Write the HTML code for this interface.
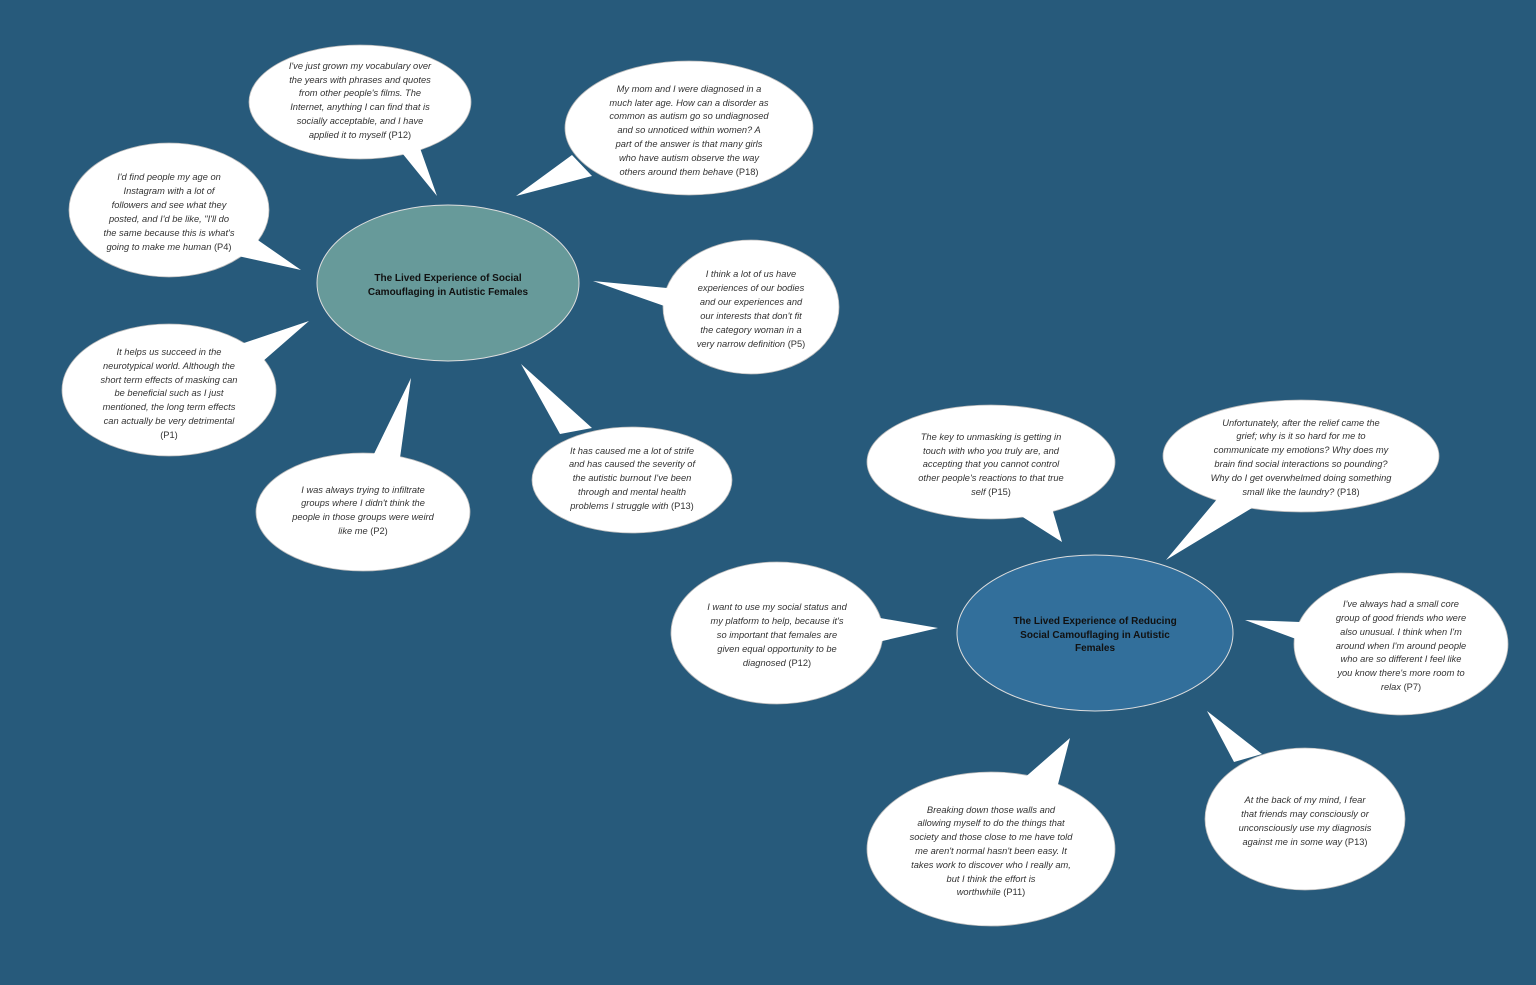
<!DOCTYPE html>
<html><head><meta charset="utf-8"><style>
html,body{margin:0;padding:0;background:#275a7b;}
svg{display:block}
.q{font-family:"Liberation Sans",sans-serif;font-size:9.3px;font-style:italic;fill:#333;text-anchor:middle}
.q tspan.n{font-style:normal}
.h{font-family:"Liberation Sans",sans-serif;font-size:10px;font-weight:bold;fill:#111;text-anchor:middle}
.b{fill:#fff;stroke:#bbb;stroke-width:0.8}
.t{fill:#fff}
</style></head><body>
<svg width="1536" height="985" viewBox="0 0 1536 985" xmlns="http://www.w3.org/2000/svg">
<rect width="1536" height="985" fill="#275a7b"/>
<ellipse cx="448" cy="283" rx="131" ry="78" fill="#679a9a" stroke="#ddd" stroke-width="1"/>
<text class="h"><tspan x="448" y="281">The Lived Experience of Social</tspan><tspan x="448" y="295">Camouflaging in Autistic Females</tspan></text>
<ellipse cx="1095" cy="633" rx="138" ry="78" fill="#326f9b" stroke="#ddd" stroke-width="1"/>
<text class="h"><tspan x="1095" y="624">The Lived Experience of Reducing</tspan><tspan x="1095" y="638">Social Camouflaging in Autistic</tspan><tspan x="1095" y="651">Females</tspan></text>

<!-- 1 -->
<ellipse class="b" cx="360" cy="102" rx="111" ry="57"/><polygon class="t" points="398,148 420,148 437,196"/>
<text class="q"><tspan x="360" y="69">I've just grown my vocabulary over</tspan><tspan x="360" y="83">the years with phrases and quotes</tspan><tspan x="360" y="96">from other people's films. The</tspan><tspan x="360" y="110">Internet, anything I can find that is</tspan><tspan x="360" y="124">socially acceptable, and I have</tspan><tspan x="360" y="138">applied it to myself <tspan class="n">(P12)</tspan></tspan></text>
<!-- 2 -->
<ellipse class="b" cx="689" cy="128" rx="124" ry="67"/><polygon class="t" points="572,155 592,176 516,196"/>
<text class="q"><tspan x="689" y="92">My mom and I were diagnosed in a</tspan><tspan x="689" y="106">much later age. How can a disorder as</tspan><tspan x="689" y="119">common as autism go so undiagnosed</tspan><tspan x="689" y="133">and so unnoticed within women? A</tspan><tspan x="689" y="147">part of the answer is that many girls</tspan><tspan x="689" y="161">who have autism observe the way</tspan><tspan x="689" y="175">others around them behave <tspan class="n">(P18)</tspan></tspan></text>
<!-- 3 -->
<ellipse class="b" cx="169" cy="210" rx="100" ry="67"/><polygon class="t" points="252,236 238,256 301,270"/>
<text class="q"><tspan x="169" y="180">I'd find people my age on</tspan><tspan x="169" y="194">Instagram with a lot of</tspan><tspan x="169" y="208">followers and see what they</tspan><tspan x="169" y="222">posted, and I'd be like, "I'll do</tspan><tspan x="169" y="236">the same because this is what's</tspan><tspan x="169" y="250">going to make me human <tspan class="n">(P4)</tspan></tspan></text>
<!-- 4 -->
<ellipse class="b" cx="169" cy="390" rx="107" ry="66"/><polygon class="t" points="238,345 262,362 309,321"/>
<text class="q"><tspan x="169" y="355">It helps us succeed in the</tspan><tspan x="169" y="369">neurotypical world. Although the</tspan><tspan x="169" y="383">short term effects of masking can</tspan><tspan x="169" y="396">be beneficial such as I just</tspan><tspan x="169" y="410">mentioned, the long term effects</tspan><tspan x="169" y="424">can actually be very detrimental</tspan><tspan class="n" x="169" y="438" style="font-style:normal">(P1)</tspan></text>
<!-- 5 -->
<ellipse class="b" cx="363" cy="512" rx="107" ry="59"/><polygon class="t" points="372,458 400,458 411,378"/>
<text class="q"><tspan x="363" y="493">I was always trying to infiltrate</tspan><tspan x="363" y="506">groups where I didn't think the</tspan><tspan x="363" y="520">people in those groups were weird</tspan><tspan x="363" y="534">like me <tspan class="n">(P2)</tspan></tspan></text>
<!-- 6 -->
<ellipse class="b" cx="632" cy="480" rx="100" ry="53"/><polygon class="t" points="560,434 592,428 521,364"/>
<text class="q"><tspan x="632" y="454">It has caused me a lot of  strife</tspan><tspan x="632" y="467">and has caused the severity of</tspan><tspan x="632" y="481">the autistic burnout I've been</tspan><tspan x="632" y="495">through and mental health</tspan><tspan x="632" y="509">problems I struggle with <tspan class="n">(P13)</tspan></tspan></text>
<!-- 7 -->
<ellipse class="b" cx="751" cy="307" rx="88" ry="67"/><polygon class="t" points="667,288 670,308 593,281"/>
<text class="q"><tspan x="751" y="277">I think a lot of us have</tspan><tspan x="751" y="291">experiences of our bodies</tspan><tspan x="751" y="305">and our experiences and</tspan><tspan x="751" y="319">our interests that don't fit</tspan><tspan x="751" y="333">the category woman in a</tspan><tspan x="751" y="347">very narrow definition <tspan class="n">(P5)</tspan></tspan></text>
<!-- 8 -->
<ellipse class="b" cx="991" cy="462" rx="124" ry="57"/><polygon class="t" points="1018,514 1052,508 1062,542"/>
<text class="q"><tspan x="991" y="440">The key to unmasking is getting in</tspan><tspan x="991" y="454">touch with who you truly are, and</tspan><tspan x="991" y="467">accepting that you cannot control</tspan><tspan x="991" y="481">other people's reactions to that true</tspan><tspan x="991" y="495">self <tspan class="n">(P15)</tspan></tspan></text>
<!-- 9 -->
<ellipse class="b" cx="1301" cy="456" rx="138" ry="56"/><polygon class="t" points="1218,498 1252,508 1166,560"/>
<text class="q"><tspan x="1301" y="426">Unfortunately, after the relief came the</tspan><tspan x="1301" y="439">grief; why is it so hard for me to</tspan><tspan x="1301" y="453">communicate my emotions? Why does my</tspan><tspan x="1301" y="467">brain find social interactions so pounding?</tspan><tspan x="1301" y="481">Why do I get overwhelmed doing something</tspan><tspan x="1301" y="495">small like the laundry? <tspan class="n">(P18)</tspan></tspan></text>
<!-- 10 -->
<ellipse class="b" cx="1401" cy="644" rx="107" ry="71"/><polygon class="t" points="1300,622 1304,642 1245,620"/>
<text class="q"><tspan x="1401" y="607">I've always had  a small core</tspan><tspan x="1401" y="621">group of  good friends who were</tspan><tspan x="1401" y="635">also unusual. I think when I'm</tspan><tspan x="1401" y="649">around when I'm around people</tspan><tspan x="1401" y="662">who are so different  I feel like</tspan><tspan x="1401" y="676">you know there's  more room to</tspan><tspan x="1401" y="690">relax <tspan class="n">(P7)</tspan></tspan></text>
<!-- 11 -->
<ellipse class="b" cx="777" cy="633" rx="106" ry="71"/><polygon class="t" points="880,618 878,642 938,628"/>
<text class="q"><tspan x="777" y="610">I want to use my social status and</tspan><tspan x="777" y="624">my platform to help,  because it's</tspan><tspan x="777" y="638">so important that females are</tspan><tspan x="777" y="652">given equal opportunity to be</tspan><tspan x="777" y="666">diagnosed <tspan class="n">(P12)</tspan></tspan></text>
<!-- 12 -->
<ellipse class="b" cx="991" cy="849" rx="124" ry="77"/><polygon class="t" points="1022,780 1056,792 1070,738"/>
<text class="q"><tspan x="991" y="813">Breaking down those walls and</tspan><tspan x="991" y="826">allowing myself to do the things that</tspan><tspan x="991" y="840">society and those close to me have told</tspan><tspan x="991" y="854">me aren't normal hasn't been easy. It</tspan><tspan x="991" y="868">takes work to discover who I really am,</tspan><tspan x="991" y="882">but I think the effort is</tspan><tspan x="991" y="895">worthwhile <tspan class="n">(P11)</tspan></tspan></text>
<!-- 13 -->
<ellipse class="b" cx="1305" cy="819" rx="100" ry="71"/><polygon class="t" points="1234,762 1262,754 1207,711"/>
<text class="q"><tspan x="1305" y="803">At the back of my mind, I  fear</tspan><tspan x="1305" y="817">that friends may consciously or</tspan><tspan x="1305" y="831">unconsciously use my diagnosis</tspan><tspan x="1305" y="845">against me in some way <tspan class="n">(P13)</tspan></tspan></text>
</svg>
</body></html>
